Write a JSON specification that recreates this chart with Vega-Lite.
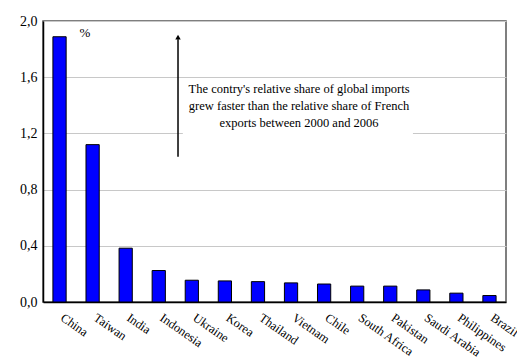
{
  "$schema": "https://vega.github.io/schema/vega-lite/v6.json",
  "width": 463,
  "height": 281,
  "autosize": {"type": "none"},
  "padding": {"left": 43, "top": 21, "right": 11, "bottom": 57},
  "background": "white",
  "config": {
    "view": {"stroke": "#555", "strokeWidth": 1.5},
    "font": "Liberation Serif"
  },
  "datasets": {
    "bars": [
      {"country": "China", "value": 1.888},
      {"country": "Taiwan", "value": 1.12},
      {"country": "India", "value": 0.383},
      {"country": "Indonesia", "value": 0.224},
      {"country": "Ukraine", "value": 0.155},
      {"country": "Korea", "value": 0.15},
      {"country": "Thailand", "value": 0.145},
      {"country": "Vietnam", "value": 0.136},
      {"country": "Chile", "value": 0.128},
      {"country": "South Africa", "value": 0.113},
      {"country": "Pakistan", "value": 0.113},
      {"country": "Saudi Arabia", "value": 0.086},
      {"country": "Philippines", "value": 0.063},
      {"country": "Brazil", "value": 0.046}
    ],
    "arrow": [{"x": 0.2916, "y1": 1.034, "y2": 1.87}],
    "head": [{"x": 0.2916, "y": 1.885}],
    "box": [{"x1": 0.302, "x2": 0.799, "y1": 1.15, "y2": 1.585}],
    "notes": [
      {"x": 0.553, "y": 1.516, "t": "The contry's relative share of global imports"},
      {"x": 0.553, "y": 1.395, "t": "grew faster than the relative share of French"},
      {"x": 0.553, "y": 1.274, "t": "exports between 2000 and 2006"}
    ],
    "pct": [{"x": 0.0907, "y": 1.917, "t": "%"}]
  },
  "layer": [
    {
      "data": {"name": "bars"},
      "mark": {"type": "bar", "fill": "#0000ff", "stroke": "#000000", "strokeWidth": 1},
      "encoding": {
        "x": {
          "field": "country", "type": "nominal", "sort": null,
          "scale": {"paddingInner": 0.6, "paddingOuter": 0.3},
          "axis": {
            "title": null, "labelAngle": 35, "labelAlign": "left", "labelBaseline": "top",
            "labelFontSize": 12.5, "labelColor": "#000", "ticks": false,
            "domainColor": "#000", "domainWidth": 1.5, "labelPadding": 9, "labelOffset": 6,
            "labelFont": "Liberation Serif"
          }
        },
        "y": {
          "field": "value", "type": "quantitative",
          "scale": {"domain": [0, 2], "nice": false},
          "axis": {
            "title": null, "values": [0, 0.4, 0.8, 1.2, 1.6, 2],
            "labelExpr": "replace(format(datum.value,'.1f'),'.',',')",
            "ticks": false, "gridColor": "#c8c8c8", "gridWidth": 1,
            "domainColor": "#000", "domainWidth": 1.5,
            "labelFontSize": 14, "labelPadding": 6, "labelColor": "#000",
            "labelFont": "Liberation Serif"
          }
        }
      }
    },
    {
      "data": {"name": "box"},
      "mark": {"type": "rect", "fill": "white"},
      "encoding": {
        "x": {"field": "x1", "type": "quantitative", "scale": {"domain": [0, 1]}, "axis": null},
        "x2": {"field": "x2"},
        "y": {"field": "y1", "type": "quantitative"},
        "y2": {"field": "y2"}
      }
    },
    {
      "data": {"name": "arrow"},
      "mark": {"type": "rule", "color": "#000", "strokeWidth": 1.5},
      "encoding": {
        "x": {"field": "x", "type": "quantitative", "scale": {"domain": [0, 1]}, "axis": null},
        "y": {"field": "y1", "type": "quantitative"},
        "y2": {"field": "y2"}
      }
    },
    {
      "data": {"name": "head"},
      "mark": {"type": "point", "shape": "triangle-up", "filled": true, "color": "#000", "size": 30, "opacity": 1},
      "encoding": {
        "x": {"field": "x", "type": "quantitative", "scale": {"domain": [0, 1]}, "axis": null},
        "y": {"field": "y", "type": "quantitative"}
      }
    },
    {
      "data": {"name": "notes"},
      "mark": {"type": "text", "font": "Liberation Serif", "fontSize": 12.5, "color": "#000", "align": "center", "baseline": "middle"},
      "encoding": {
        "x": {"field": "x", "type": "quantitative", "scale": {"domain": [0, 1]}, "axis": null},
        "y": {"field": "y", "type": "quantitative"},
        "text": {"field": "t"}
      }
    },
    {
      "data": {"name": "pct"},
      "mark": {"type": "text", "font": "Liberation Serif", "fontSize": 13, "color": "#000", "align": "center", "baseline": "middle"},
      "encoding": {
        "x": {"field": "x", "type": "quantitative", "scale": {"domain": [0, 1]}, "axis": null},
        "y": {"field": "y", "type": "quantitative"},
        "text": {"field": "t"}
      }
    }
  ],
  "resolve": {"scale": {"x": "independent"}}
}
